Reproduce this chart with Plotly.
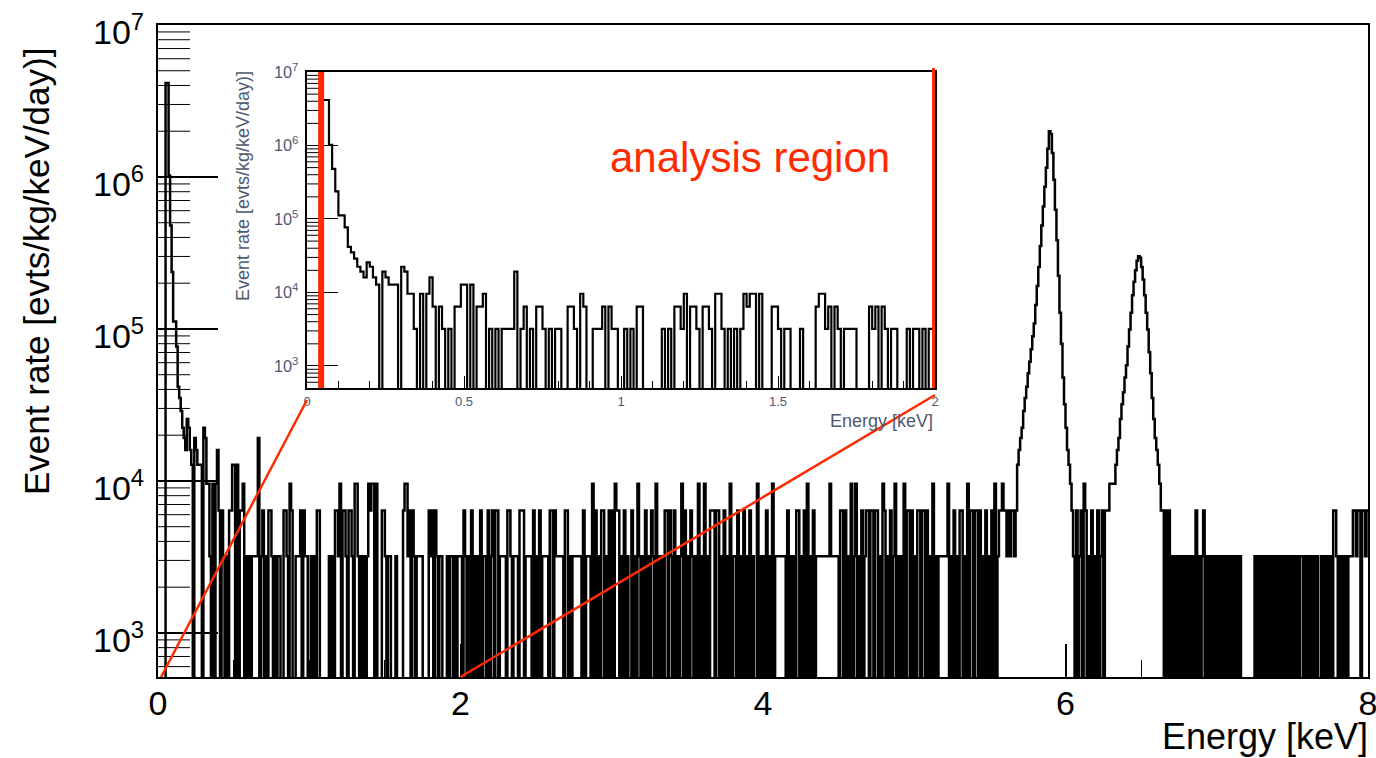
import plotly.graph_objects as go

# ---------------- data: counts per 0.01 keV bin (0 - 8 keV) ----------------
BIN_WIDTH = 0.01          # keV
RATE_PER_COUNT = 3200.0   # evts/kg/keV/day for one count in a bin

counts_0_to_1 = [
    0, 0, 0, 0, 0, 1300, 1300, 320, 150, 74,
    35, 35, 24, 13, 11, 9, 7, 6, 5, 8,
    7, 5, 4, 0, 6, 5, 4, 4, 4, 0,
    7, 6, 3, 3, 1, 0, 3, 0, 3, 5,
    2, 0, 2, 1, 0, 1, 0, 2, 2, 4,
    4, 0, 4, 0, 2, 2, 3, 0, 1, 0,
    1, 0, 1, 1, 1, 1, 6, 0, 1, 2,
    0, 1, 0, 2, 2, 1, 0, 1, 0, 1,
    1, 0, 0, 2, 2, 1, 0, 3, 2, 0,
    0, 1, 1, 1, 2, 0, 2, 1, 1, 0,
]
counts_1_to_2 = [
    0, 1, 0, 1, 0, 2, 2, 0, 0, 0,
    0, 0, 0, 1, 0, 1, 0, 2, 2, 1,
    3, 0, 2, 2, 1, 0, 2, 2, 1, 0,
    3, 3, 1, 0, 1, 0, 1, 0, 1, 3,
    2, 3, 3, 0, 3, 0, 0, 0, 2, 2,
    1, 0, 1, 1, 0, 0, 0, 1, 0, 0,
    0, 0, 2, 3, 3, 1, 2, 0, 2, 1,
    0, 1, 1, 1, 1, 0, 0, 0, 0, 2,
    1, 2, 0, 2, 1, 0, 1, 1, 0, 0,
    0, 1, 0, 1, 1, 0, 1, 0, 1, 1,
]
counts_2_to_3 = [
    1, 0, 2, 1, 0, 1, 0, 2, 0, 1,
    0, 1, 0, 2, 0, 1, 1, 0, 2, 0,
    1, 2, 0, 2, 2, 0, 1, 1, 1, 1,
    0, 2, 2, 1, 0, 1, 1, 1, 0, 2,
    2, 2, 0, 1, 1, 1, 1, 0, 2, 0,
    1, 0, 2, 0, 1, 1, 1, 1, 0, 2,
    2, 0, 2, 1, 1, 1, 1, 1, 0, 2,
    2, 0, 1, 0, 1, 1, 1, 1, 1, 1,
    0, 2, 0, 1, 1, 1, 0, 3, 0, 2,
    0, 1, 0, 2, 2, 0, 1, 0, 2, 0,
]
counts_3_to_4 = [
    2, 0, 3, 2, 2, 0, 1, 0, 2, 0,
    1, 0, 0, 2, 0, 1, 0, 3, 1, 0,
    1, 0, 2, 0, 1, 0, 2, 1, 0, 3,
    0, 1, 0, 1, 0, 2, 2, 0, 2, 1,
    0, 2, 0, 1, 0, 1, 3, 0, 2, 0,
    1, 0, 2, 1, 0, 1, 0, 3, 0, 1,
    0, 3, 0, 1, 0, 2, 2, 2, 0, 2,
    2, 0, 1, 0, 2, 0, 1, 0, 3, 0,
    1, 1, 0, 2, 0, 1, 0, 2, 0, 1,
    0, 2, 0, 1, 0, 0, 3, 0, 1, 0,
]
counts_4_to_5 = [
    1, 0, 2, 0, 1, 0, 3, 0, 1, 1,
    1, 1, 1, 1, 1, 0, 2, 0, 1, 0,
    1, 0, 2, 2, 0, 1, 0, 2, 0, 3,
    0, 1, 0, 2, 0, 1, 1, 1, 1, 1,
    1, 1, 1, 1, 3, 1, 1, 1, 1, 1,
    0, 2, 2, 0, 2, 0, 1, 0, 3, 0,
    1, 3, 0, 1, 0, 2, 0, 1, 2, 2,
    0, 2, 2, 0, 2, 2, 0, 1, 0, 3,
    2, 0, 1, 0, 2, 0, 1, 3, 0, 1,
    0, 1, 0, 3, 0, 2, 2, 0, 2, 0,
]
counts_5_to_6 = [
    1, 0, 2, 2, 0, 2, 2, 0, 2, 0,
    1, 0, 3, 0, 1, 0, 1, 1, 1, 1,
    1, 1, 3, 0, 1, 0, 2, 0, 1, 0,
    2, 2, 0, 1, 0, 3, 0, 2, 2, 0,
    2, 2, 0, 2, 0, 1, 0, 2, 0, 1,
    0, 2, 0, 3, 0, 1, 2, 2, 3, 2,
    2, 1, 2, 1, 2, 2, 1, 2, 4, 5,
    6, 7, 9, 11, 13, 16, 19, 23, 28, 34,
    45, 60, 80, 110, 150, 200, 270, 360, 480, 625,
    600, 450, 300, 190, 120, 70, 40, 25, 15, 10,
]
counts_6_to_7 = [
    7, 5, 4, 3, 2, 1, 0, 2, 0, 1,
    2, 0, 3, 2, 0, 1, 0, 2, 0, 1,
    0, 2, 0, 1, 2, 0, 2, 2, 2, 3,
    3, 3, 3, 4, 5, 6, 8, 10, 12, 15,
    18, 24, 31, 40, 52, 64, 76, 88, 94, 92,
    80, 66, 52, 40, 31, 22, 16, 11, 8, 6,
    5, 4, 3, 2, 2, 0, 2, 0, 2, 0,
    1, 0, 1, 0, 1, 0, 1, 0, 1, 0,
    1, 0, 1, 0, 1, 0, 2, 0, 1, 0,
    1, 2, 0, 1, 0, 1, 0, 1, 0, 1,
]
counts_7_to_8 = [
    0, 1, 0, 1, 0, 1, 0, 1, 0, 1,
    0, 1, 0, 1, 0, 1, 0, 0, 0, 0,
    0, 0, 0, 0, 0, 1, 0, 1, 0, 1,
    0, 1, 0, 1, 0, 1, 0, 1, 0, 1,
    0, 1, 0, 1, 0, 1, 0, 1, 0, 1,
    0, 1, 0, 1, 0, 1, 1, 0, 1, 0,
    1, 0, 1, 0, 1, 0, 1, 0, 0, 1,
    0, 1, 0, 1, 0, 1, 0, 2, 2, 1,
    0, 1, 0, 1, 0, 1, 0, 1, 1, 1,
    2, 2, 1, 2, 2, 0, 2, 2, 1, 2,
]

x_tick_main = [0, 2, 4, 6, 8]
x_tick_inset = [0, 0.5, 1, 1.5, 2]
y_decades_main = [3, 4, 5, 6, 7]
analysis_low, analysis_high = 0.045, 2.0   # keV, red lines in the inset
inset_emax = 2.0
minor_digits = [2, 3, 4, 5, 6, 7, 8, 9]

counts = (counts_0_to_1 + counts_1_to_2 + counts_2_to_3 + counts_3_to_4 +
          counts_4_to_5 + counts_5_to_6 + counts_6_to_7 + counts_7_to_8)

FLOOR = 1.0  # empty bins drop below the visible axis range (like ROOT)


def step_arrays(cnts):
    xs = [i * BIN_WIDTH for i in range(len(cnts) + 1)]
    ys = [c * RATE_PER_COUNT if c > 0 else FLOOR for c in cnts]
    ys.append(ys[-1])
    return xs, ys


x_main, y_main = step_arrays(counts)
n_inset = int(round(inset_emax / BIN_WIDTH))
x_in, y_in = step_arrays(counts[:n_inset])

# ---------------- layout geometry ----------------
W, H = 1376, 758
main_px_box = (158, 1368, 25, 677)   # left, right, top, bottom in pixels
ins_px_box = (307, 935, 72, 388)
main_x = [main_px_box[0] / W, main_px_box[1] / W]
main_y = [(H - main_px_box[3]) / H, (H - main_px_box[2]) / H]
ins_x = [ins_px_box[0] / W, ins_px_box[1] / W]
ins_y = [(H - ins_px_box[3]) / H, (H - ins_px_box[2]) / H]
main_yrange = [2.71, 7]
ins_yrange = [2.70, 7]

FONT = "Liberation Sans, Arial, Helvetica, sans-serif"
RED = "#ff2a00"
INSET_TXT = "#4f5870"

fig = go.Figure()
fig.add_trace(go.Scatter(x=x_main, y=y_main, mode="lines",
                         line=dict(color="black", width=2.5, shape="hv"),
                         xaxis="x", yaxis="y", hoverinfo="skip",
                         showlegend=False))
fig.add_trace(go.Scatter(x=x_in, y=y_in, mode="lines",
                         line=dict(color="black", width=2.2, shape="hv"),
                         xaxis="x2", yaxis="y2", hoverinfo="skip",
                         showlegend=False))

common = dict(showline=True, mirror=True, linecolor="black", linewidth=2,
              showgrid=False, zeroline=False, automargin=False,
              ticklabeloverflow="allow")

fig.update_layout(
    width=W, height=H,
    margin=dict(l=0, r=0, t=0, b=0, pad=0, autoexpand=False),
    paper_bgcolor="white", plot_bgcolor="white",
    showlegend=False,
    font=dict(family=FONT, color="black"),
    xaxis=dict(domain=main_x, anchor="y", range=[0, 8],
               tickvals=x_tick_main, ticks="inside", ticklen=33, tickwidth=1.5,
               tickcolor="black",
               minor=dict(dtick=0.5, ticks="inside", ticklen=17, tickwidth=1,
                          tickcolor="black"),
               tickfont=dict(size=34, family=FONT, color="black"),
               ticklabelstandoff=-5, **common),
    yaxis=dict(domain=main_y, anchor="x", type="log", range=main_yrange,
               tickvals=[10 ** d for d in y_decades_main], showticklabels=False,
               ticks="inside", ticklen=60, tickwidth=1.5, tickcolor="black",
               **common),
    xaxis2=dict(domain=ins_x, anchor="y2", range=[0, inset_emax],
                tickvals=x_tick_inset, ticks="inside", ticklen=12, tickwidth=1,
                tickcolor="black",
                minor=dict(dtick=0.1, ticks="inside", ticklen=7, tickwidth=1,
                           tickcolor="black"),
                tickfont=dict(size=13, family=FONT, color=INSET_TXT),
                ticklabelstandoff=0, **common),
    yaxis2=dict(domain=ins_y, anchor="x2", type="log", range=ins_yrange,
                dtick=1, exponentformat="power", ticks="inside", ticklen=31,
                tickwidth=1, tickcolor="black",
                tickfont=dict(size=13, family=FONT, color=INSET_TXT),
                ticklabelstandoff=4, **common),
)


def main_px(e):
    return main_x[0] + (e - 0) / 8.0 * (main_x[1] - main_x[0])


def ins_px(e):
    return ins_x[0] + e / inset_emax * (ins_x[1] - ins_x[0])


shapes = []
# minor log ticks (ROOT style) on both y axes
main_w = main_px_box[1] - main_px_box[0]
ins_w = ins_px_box[1] - ins_px_box[0]
for (xref, yref, yr, length, wpx) in [("x domain", "y", main_yrange, 32, main_w),
                                      ("x2 domain", "y2", ins_yrange, 13, ins_w)]:
    for dec in range(int(yr[0]), int(yr[1]) + 1):
        for d in minor_digits:
            v = d * 10 ** dec
            if 10 ** yr[0] <= v <= 10 ** yr[1]:
                shapes.append(dict(type="line", xref=xref, yref=yref,
                                   x0=0, x1=length / wpx, y0=v, y1=v,
                                   line=dict(color="black", width=1),
                                   layer="above"))

shapes += [
    # analysis region boundaries inside the inset
    dict(type="line", xref="x2", yref="y2 domain", x0=analysis_low, x1=analysis_low,
         y0=0, y1=1, line=dict(color=RED, width=6), layer="above"),
    dict(type="line", xref="x2", yref="y2 domain", x0=analysis_high, x1=analysis_high,
         y0=0, y1=1.013, line=dict(color=RED, width=6), layer="above"),
    # zoom connectors from main axis to inset
    dict(type="line", xref="paper", yref="paper",
         x0=main_px(0.02), y0=main_y[0], x1=ins_px(0), y1=ins_y[0] - 12 / H,
         line=dict(color=RED, width=2.5), layer="above"),
    dict(type="line", xref="paper", yref="paper",
         x0=main_px(2.0), y0=main_y[0], x1=ins_px(2.0), y1=ins_y[0] - 7 / H,
         line=dict(color=RED, width=2.5), layer="above"),
]
fig.update_layout(shapes=shapes)

annotations = []
# main y tick labels (ROOT style: sit slightly below their tick)
for d in y_decades_main:
    annotations.append(dict(text=f"10<sup>{d}</sup>", xref="paper", yref="y",
                            x=146 / W, y=d, xanchor="right", yanchor="middle",
                            yshift=-5, showarrow=False,
                            font=dict(size=34, family=FONT, color="black")))

annotations += [
    dict(text="Event rate [evts/kg/keV/day)]", textangle=-90, xref="paper",
         yref="paper", x=37 / W, y=1 - 272 / H, xanchor="center", yanchor="middle",
         showarrow=False, font=dict(size=35, family=FONT, color="black")),
    dict(text="Energy [keV]", xref="paper", yref="paper", x=1370 / W,
         y=1 - 736 / H, xanchor="right", yanchor="middle", showarrow=False,
         font=dict(size=36, family=FONT, color="black")),
    dict(text="Event rate [evts/kg/keV/day)]", textangle=-90, xref="paper",
         yref="paper", x=243 / W, y=1 - 186 / H, xanchor="center", yanchor="middle",
         showarrow=False, font=dict(size=18, family=FONT, color=INSET_TXT)),
    dict(text="Energy [keV]", xref="paper", yref="paper", x=935 / W,
         y=1 - 421 / H, xanchor="right", yanchor="middle", showarrow=False,
         font=dict(size=18, family=FONT, color=INSET_TXT)),
    dict(text="analysis region", xref="paper", yref="paper", x=750 / W,
         y=1 - 158 / H, xanchor="center", yanchor="middle", showarrow=False,
         font=dict(size=42, family=FONT, color=RED)),
]
fig.update_layout(annotations=annotations)

fig.write_html("out.html")
